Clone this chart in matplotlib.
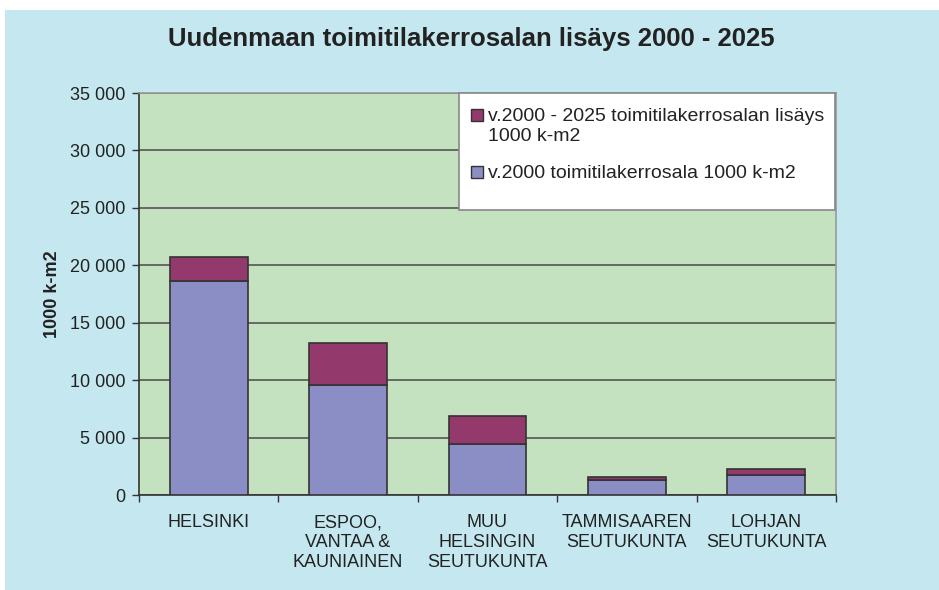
import matplotlib.pyplot as plt
from matplotlib.patches import Rectangle

plt.rcParams['font.family'] = ['Liberation Sans', 'DejaVu Sans']

# Data (1000 k-m2)
alueet = ['HELSINKI', 'ESPOO,\nVANTAA &\nKAUNIAINEN', 'MUU\nHELSINGIN\nSEUTUKUNTA',
          'TAMMISAAREN\nSEUTUKUNTA', 'LOHJAN\nSEUTUKUNTA']
kerrosala_2000 = [18600, 9600, 4400, 1300, 1700]
lisays_2000_2025 = [2100, 3600, 2500, 300, 600]
y_ticks = [0, 5000, 10000, 15000, 20000, 25000, 30000, 35000]
y_labels = ['0', '5 000', '10 000', '15 000', '20 000', '25 000', '30 000', '35 000']
selitteet = ['v.2000 - 2025 toimitilakerrosalan lisäys\n1000 k-m2',
             'v.2000 toimitilakerrosala 1000 k-m2']

c_base = '#8B8EC4'
c_top = '#94396B'
c_plot = '#C4E2C0'
c_panel = '#C5E8F0'
c_text = '#222222'

W, H = 939, 590
fig = plt.figure(figsize=(W / 100, H / 100), dpi=100, facecolor='white')
fig.patches.append(Rectangle((5 / W, 0), 1 - 5 / W, 1 - 10 / H,
                             transform=fig.transFigure, facecolor=c_panel,
                             edgecolor='none', zorder=-10))

# plot area in pixels: x 139..836, y 93..495
AX0, AX1, AY0, AY1 = 139, 836, 93, 495
ax = fig.add_axes([AX0 / W, (H - AY1) / H, (AX1 - AX0) / W, (AY1 - AY0) / H])
ax.set_facecolor(c_plot)


def px(x, y):
    # pixel position -> axes fraction
    return (x - AX0) / (AX1 - AX0), (AY1 - y) / (AY1 - AY0)


x = list(range(len(alueet)))
ax.bar(x, kerrosala_2000, width=0.557, color=c_base, edgecolor='#333333', linewidth=1.2, zorder=3)
ax.bar(x, lisays_2000_2025, bottom=kerrosala_2000, width=0.557, color=c_top,
       edgecolor='#333333', linewidth=1.2, zorder=3)

ax.set_xlim(-0.5, len(alueet) - 0.5)
ax.set_ylim(0, 35000)
ax.set_yticks(y_ticks)
ax.set_yticklabels(y_labels, fontsize=13, color=c_text)
ax.yaxis.grid(True, color='#555555', linewidth=1.2, zorder=1)
ax.tick_params(axis='y', direction='out', length=5, width=1, color='#333333', pad=5)

ax.set_xticks(x)
ax.set_xticklabels(alueet, fontsize=13, color=c_text, linespacing=1.2)
ax.tick_params(axis='x', which='major', length=0, pad=14)
ax.set_xticks([i - 0.5 for i in range(len(alueet) + 1)], minor=True)
ax.tick_params(axis='x', which='minor', direction='out', length=5, width=1, color='#333333')

for s in ['left', 'bottom']:
    ax.spines[s].set_color('#333333')
    ax.spines[s].set_linewidth(1.2)
for s in ['top', 'right']:
    ax.spines[s].set_color('#999999')
    ax.spines[s].set_linewidth(1.2)

ax.set_ylabel('1000 k-m2', fontsize=13, fontweight='bold', color=c_text, labelpad=6)

fig.text(471 / W, 1 - 39 / H, 'Uudenmaan toimitilakerrosalan lisäys 2000 - 2025',
         ha='center', va='center', fontsize=18.5, fontweight='bold', color=c_text)

# legend box, drawn by hand to match the original layout
bx0, by0 = px(459, 210)
bx1, by1 = px(835, 93)
ax.add_patch(Rectangle((bx0, by0), bx1 - bx0, by1 - by0, transform=ax.transAxes,
                       facecolor='white', edgecolor='#888888', linewidth=1.2,
                       zorder=5, clip_on=False))
for color, label, yc in zip([c_top, c_base], selitteet, [115, 172]):
    sx0, sy0 = px(471, yc + 6)
    sx1, sy1 = px(483, yc - 6)
    ax.add_patch(Rectangle((sx0, sy0), sx1 - sx0, sy1 - sy0, transform=ax.transAxes,
                           facecolor=color, edgecolor='#333333', linewidth=1,
                           zorder=6, clip_on=False))
    tx, ty = px(488, yc - 7)
    ax.text(tx, ty, label, transform=ax.transAxes, ha='left', va='top',
            fontsize=14, color=c_text, linespacing=1.2, zorder=7)

fig.savefig('out.png', dpi=100)
